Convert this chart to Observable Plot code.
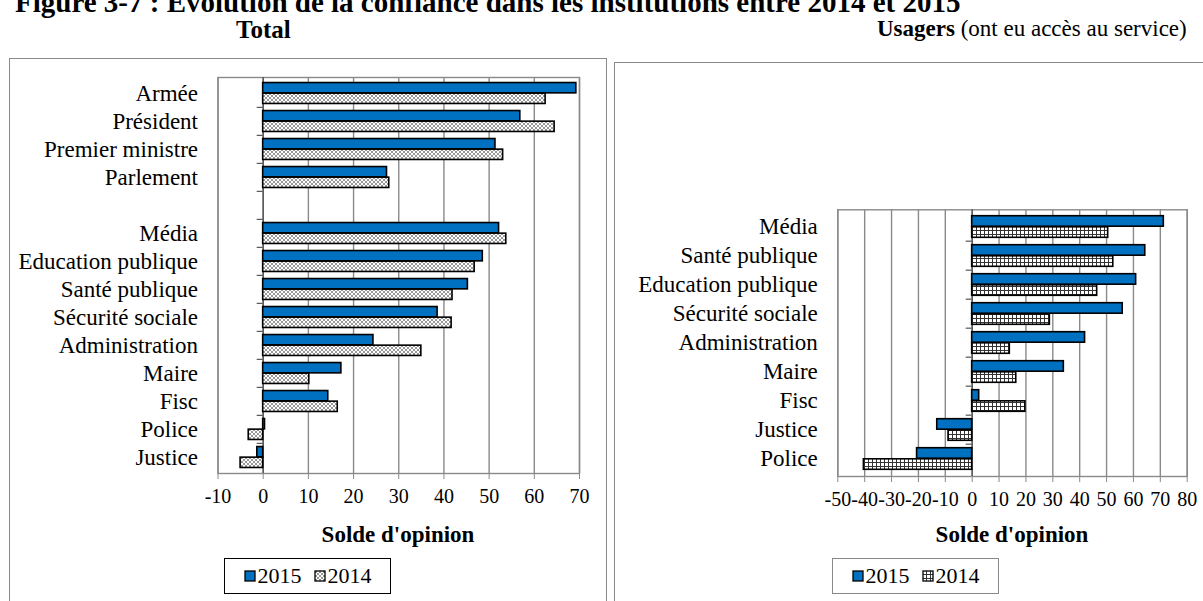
<!DOCTYPE html>
<html><head><meta charset="utf-8">
<script src="https://cdn.jsdelivr.net/npm/d3@7"></script>
<script src="https://cdn.jsdelivr.net/npm/@observablehq/plot@0.6"></script>
<style>
body{margin:0;width:1203px;height:601px;overflow:hidden;background:#fff;font-family:"Liberation Serif",serif;position:relative;color:#000}
svg text{font-family:"Liberation Serif",serif !important}
.abs{position:absolute;white-space:nowrap}
.frame{position:absolute;border:1.5px solid #8a8a8a;box-sizing:border-box}
.legend{position:absolute;display:flex;align-items:center;justify-content:center;gap:12px;font-size:22px;box-sizing:border-box;background:#fff}
.legend .it{display:flex;align-items:center;gap:2px}
.xl{position:absolute;font-weight:bold;font-size:23px;transform:translateX(-50%);white-space:nowrap}
</style></head><body>
<div class="frame" style="left:9px;top:58px;width:598px;height:600px"></div>
<div class="frame" style="left:614px;top:62px;width:600px;height:600px"></div>
<div class="abs" style="left:15px;top:-13px;font-weight:bold;font-size:29px;line-height:1.1">Figure 3-7 : Évolution de la confiance dans les institutions entre 2014 et 2015</div>
<div class="abs" style="left:236px;top:16px;font-weight:bold;font-size:25px">Total</div>
<div class="abs" style="left:877px;top:16px;font-size:23px"><b>Usagers</b> (ont eu accès au service)</div>
<div id="left" class="abs" style="left:0;top:60px"></div>
<div id="right" class="abs" style="left:600px;top:190px"></div>
<div class="xl" style="left:398px;top:522px">Solde d'opinion</div>
<div class="xl" style="left:1012px;top:522px">Solde d'opinion</div>
<div id="legL" class="legend" style="left:224px;top:558px;width:167px;height:36px;border:1.5px solid #000"></div>
<div id="legR" class="legend" style="left:832px;top:558px;width:167px;height:36px;border:1.5px solid #8a8a8a"></div>
<script>
// ---- data ----
const totalCategories = ["Armée","Président","Premier ministre","Parlement"," ","Média","Education publique","Santé publique","Sécurité sociale","Administration","Maire","Fisc","Police","Justice"];
const total2015 = [69.3,56.9,51.4,27.4,null,52.2,48.6,45.3,38.6,24.4,17.3,14.4,0.4,-1.3];
const total2014 = [62.5,64.5,53.1,27.9,null,53.8,46.8,41.9,41.7,35.0,10.2,16.5,-3.2,-5.0];
const totalTicks = [-10,0,10,20,30,40,50,60,70];

const usersCategories = ["Média","Santé publique","Education publique","Sécurité sociale","Administration","Maire","Fisc","Justice","Police"];
const users2015 = [71.3,64.4,61.0,56.0,42.0,34.1,2.6,-13.0,-20.5];
const users2014 = [50.6,52.5,46.5,28.9,14.0,16.4,19.8,-8.8,-40.3];
const usersTicks = [-50,-40,-30,-20,-10,0,10,20,30,40,50,60,70,80];

const years = ["2015","2014"];
const BLUE = "#0070C0";
const SERIF = "Liberation Serif";

function rowsOf(cats, vals){
  return cats.map((c,i)=>({cat:c, value:vals[i]})).filter(d=>d.value!=null);
}

function fillPattern(p, kind){
  p.append("rect").attr("width",4).attr("height",4).attr("fill","#fff");
  if (kind === "patL") {
    p.append("path").attr("d","M0,0L4,4M4,0L0,4").attr("stroke","#8c8c8c").attr("stroke-width",0.9);
  } else {
    p.append("rect").attr("width",4).attr("height",1).attr("fill","#333");
    p.append("rect").attr("width",1).attr("height",4).attr("fill","#333");
  }
}

function addPatterns(svg){
  const defs = d3.select(svg).insert("defs", ":first-child");
  ["patL","patR"].forEach(k => fillPattern(defs.append("pattern").attr("id",k).attr("patternUnits","userSpaceOnUse").attr("width",4).attr("height",4), k));
}

function chart({cats, v15, v14, ticks, width, height, mL, mR, mT, mB, pat}){
  const bw = (height - mT - mB) / cats.length;
  const pad = bw * 0.125, half = bw * 0.5;
  return Plot.plot({
    width, height, marginLeft: mL, marginRight: mR, marginTop: mT, marginBottom: mB,
    style: {fontFamily: SERIF, background: "transparent", color: "#000", overflow: "visible"},
    x: {domain: [ticks[0], ticks[ticks.length-1]]},
    y: {domain: cats, padding: 0},
    marks: [
      Plot.gridX(ticks, {stroke: "#8a8a8a", strokeOpacity: 1, strokeWidth: 1.4}),
      Plot.frame({stroke: "#8a8a8a", strokeWidth: 1.4}),
      Plot.ruleX([0], {stroke: "#555", strokeWidth: 1.4}),
      Plot.ruleY(cats.slice(1), {y: d => d, x1: 0, x2: 0, insetLeft: -6, dy: -bw/2, stroke: "#555", strokeWidth: 1.2}),
      Plot.barX(rowsOf(cats, v15), {x1: 0, x2: "value", y: "cat", fill: BLUE, stroke: "#000", strokeWidth: 1.6, insetTop: pad, insetBottom: half}),
      Plot.barX(rowsOf(cats, v14), {x1: 0, x2: "value", y: "cat", fill: `url(#${pat})`, stroke: "#000", strokeWidth: 1.6, insetTop: half, insetBottom: pad}),
      Plot.axisX({ticks, tickSize: 6, tickPadding: 9, stroke: "#8a8a8a", fontSize: 20, fontFamily: SERIF, tickFormat: d => String(d), label: null}),
      Plot.axisY({tickSize: 0, tickPadding: 20, fontSize: 23, fontFamily: SERIF, label: null})
    ]
  });
}

const left = chart({cats: totalCategories, v15: total2015, v14: total2014, ticks: totalTicks,
  width: 600, height: 460, mL: 217.5, mR: 21, mT: 17, mB: 47, pat: "patL"});
addPatterns(left);
document.getElementById("left").append(left);

const right = chart({cats: usersCategories, v15: users2015, v14: users2014, ticks: usersTicks,
  width: 603, height: 330, mL: 237.3, mR: 16.3, mT: 19.3, mB: 44, pat: "patR"});
addPatterns(right);
document.getElementById("right").append(right);

function legend(id, pat){
  const el = d3.select("#"+id);
  years.forEach(y => {
    const it = el.append("div").attr("class","it");
    const s = it.append("svg").attr("width",12).attr("height",12);
    if (y === "2014") {
      fillPattern(s.append("defs").append("pattern").attr("id", pat+"lg").attr("patternUnits","userSpaceOnUse").attr("width",4).attr("height",4), pat);
    }
    s.append("rect").attr("x",1).attr("y",1).attr("width",10).attr("height",10)
      .attr("fill", y === "2015" ? BLUE : `url(#${pat}lg)`).attr("stroke","#000").attr("stroke-width",1.3);
    it.append("span").text(y);
  });
}
legend("legL","patL");
legend("legR","patR");
</script>
</body></html>
